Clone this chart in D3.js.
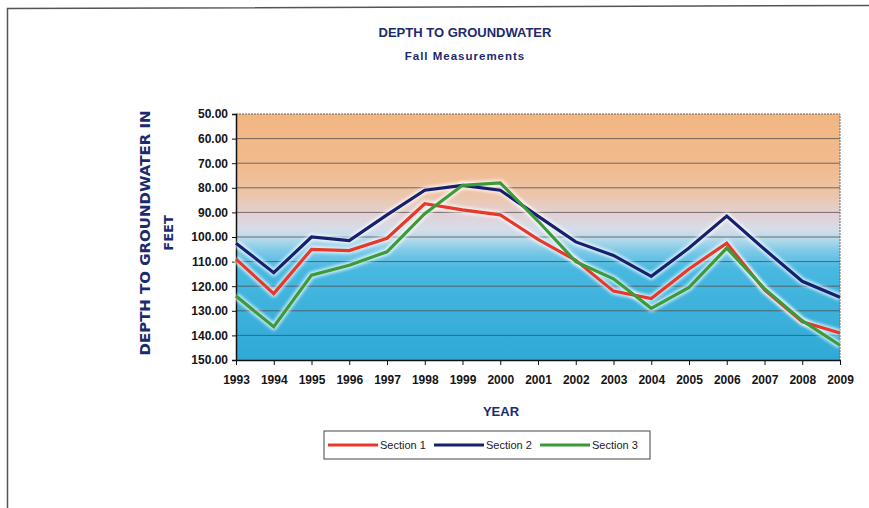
<!DOCTYPE html>
<html>
<head>
<meta charset="utf-8">
<script src="https://cdn.jsdelivr.net/npm/d3@7"></script>
<style>
  body { margin: 0; background: #fff; }
  text { font-family: "Liberation Sans", Arial, sans-serif; }
</style>
</head>
<body>
<svg id="chart" width="869" height="508"></svg>
<script>
// data
var years = [1993, 1994, 1995, 1996, 1997, 1998, 1999, 2000, 2001, 2002, 2003, 2004, 2005, 2006, 2007, 2008, 2009];
var section1 = [109, 123, 105, 105.5, 100.5, 86.5, 89, 91, 101, 109.5, 122, 125, 113, 102.5, 121.5, 134.5, 139];
var section2 = [102.5, 114.5, 100, 101.5, 91, 81, 79, 81, 91.5, 102, 107.5, 116, 104.5, 91.5, 105, 118, 124.5];
var section3 = [124, 136.5, 115.5, 111.5, 106, 90.5, 79, 78, 93.5, 110, 117, 129, 120.5, 104.5, 121, 134, 144];
var yTicks = [50, 60, 70, 80, 90, 100, 110, 120, 130, 140, 150];

var seriesNames = ["Section 1", "Section 2", "Section 3"];
var seriesValues = [section1, section2, section3];
var seriesColors = ["#e8382a", "#16206e", "#3c9a38"];

var navy = "#1c2a6e";

var svg = d3.select("#chart");

// page frame
svg.append("path")
  .attr("d", "M7.5,508 L7.5,8.5 L869,5.5")
  .attr("fill", "none")
  .attr("stroke", "#555")
  .attr("stroke-width", 1.5);

var x = d3.scalePoint().domain(years).range([236, 840]);
var y = d3.scaleLinear().domain([50, 150]).range([114, 360]);

// background gradient of the plot area
var defs = svg.append("defs");
var grad = defs.append("linearGradient")
  .attr("id", "bg").attr("x1", 0).attr("y1", 0).attr("x2", 0).attr("y2", 1);
[[0, "#f2b682"], [0.22, "#f1bb8f"], [0.33, "#ecc5aa"], [0.41, "#e2d1d6"], [0.47, "#d4dde9"],
 [0.51, "#b4d9eb"], [0.56, "#7ac8e7"], [0.63, "#48b8e0"], [1, "#2fa9d6"]]
  .forEach(function(s) {
    grad.append("stop").attr("offset", s[0]).attr("stop-color", s[1]);
  });

var blur = defs.append("filter").attr("id", "halo")
  .attr("x", "-5%").attr("y", "-20%").attr("width", "110%").attr("height", "140%");
blur.append("feGaussianBlur").attr("stdDeviation", 1.5);

svg.append("rect")
  .attr("x", x.range()[0]).attr("y", y(50))
  .attr("width", x.range()[1] - x.range()[0])
  .attr("height", y(150) - y(50))
  .attr("fill", "url(#bg)");

// gridlines
svg.append("g").selectAll("line")
  .data(yTicks.slice(1, -1))
  .enter().append("line")
  .attr("x1", x.range()[0]).attr("x2", x.range()[1])
  .attr("y1", function(d) { return y(d); })
  .attr("y2", function(d) { return y(d); })
  .attr("stroke", "#4a4a4a")
  .attr("stroke-opacity", 0.75)
  .attr("stroke-width", 1);

// top and right border, dotted
svg.append("path")
  .attr("d", "M" + x.range()[0] + "," + y(50) + " L" + x.range()[1] + "," + y(50) + " L" + x.range()[1] + "," + y(150))
  .attr("fill", "none")
  .attr("stroke", "#666")
  .attr("stroke-dasharray", "2,1")
  .attr("stroke-width", 1);

// axes
var yAxis = d3.axisLeft(y).tickValues(yTicks).tickSize(4).tickFormat(d3.format(".2f"));
var gy = svg.append("g")
  .attr("transform", "translate(" + x.range()[0] + ",0)")
  .call(yAxis);
gy.select(".domain").attr("stroke", "#111").attr("stroke-width", 1.5);
gy.selectAll(".tick line").attr("stroke", "#111");
gy.selectAll(".tick text")
  .attr("x", -8)
  .attr("fill", "#151515")
  .style("font-size", "12px")
  .style("font-weight", "bold")
  .style("font-family", "'Liberation Sans', Arial, sans-serif");

var xAxis = d3.axisBottom(x).tickSize(5).tickSizeOuter(0);
var gx = svg.append("g")
  .attr("transform", "translate(0," + y(150) + ")")
  .call(xAxis);
gx.select(".domain").attr("stroke", "#111").attr("stroke-width", 1.5);
gx.selectAll(".tick line").attr("stroke", "#111");
gx.selectAll(".tick text")
  .attr("y", 15)
  .attr("fill", "#151515")
  .style("font-size", "12px")
  .style("font-weight", "bold")
  .style("font-family", "'Liberation Sans', Arial, sans-serif");

// lines
var line = d3.line()
  .x(function(d, i) { return x(years[i]); })
  .y(function(d) { return y(d); });

seriesValues.forEach(function(vals, k) {
  svg.append("path")
    .attr("d", line(vals))
    .attr("fill", "none")
    .attr("stroke", "#fff")
    .attr("stroke-opacity", 0.7)
    .attr("stroke-width", 7)
    .attr("stroke-linejoin", "round")
    .attr("filter", "url(#halo)");
});
seriesValues.forEach(function(vals, k) {
  svg.append("path")
    .attr("d", line(vals))
    .attr("fill", "none")
    .attr("stroke", seriesColors[k])
    .attr("stroke-width", 3.2)
    .attr("stroke-linejoin", "miter");
});

// titles
svg.append("text")
  .attr("x", 465).attr("y", 37)
  .attr("text-anchor", "middle")
  .attr("fill", navy)
  .style("font-size", "13px").style("font-weight", "bold")
  .text("DEPTH TO GROUNDWATER");
svg.append("text")
  .attr("x", 465).attr("y", 60)
  .attr("text-anchor", "middle")
  .attr("fill", navy)
  .style("font-size", "11.5px").style("font-weight", "bold")
  .style("letter-spacing", "1px")
  .text("Fall Measurements");

svg.append("text")
  .attr("transform", "translate(150,233) rotate(-90)")
  .attr("text-anchor", "middle")
  .attr("fill", navy)
  .attr("textLength", 245)
  .attr("lengthAdjust", "spacingAndGlyphs")
  .style("font-family", "'DejaVu Sans', sans-serif")
  .style("font-size", "13.5px").style("font-weight", "bold")
  .text("DEPTH TO GROUNDWATER IN");
svg.append("text")
  .attr("transform", "translate(173,233) rotate(-90)")
  .attr("text-anchor", "middle")
  .attr("fill", navy)
  .style("font-family", "'DejaVu Sans', sans-serif")
  .style("font-size", "13px").style("font-weight", "bold")
  .text("FEET");

svg.append("text")
  .attr("x", 501).attr("y", 416)
  .attr("text-anchor", "middle")
  .attr("fill", navy)
  .style("font-size", "13px").style("font-weight", "bold")
  .text("YEAR");

// legend
var legend = svg.append("g").attr("transform", "translate(324,431)");
legend.append("rect")
  .attr("x", 0).attr("y", 0).attr("width", 326).attr("height", 28)
  .attr("fill", "#fff").attr("stroke", "#444").attr("stroke-width", 1);
var item = legend.selectAll("g.item")
  .data(seriesNames)
  .enter().append("g")
  .attr("class", "item")
  .attr("transform", function(d, i) { return "translate(" + (4 + i * 106) + ",14)"; });
item.append("line")
  .attr("x1", 0).attr("x2", 50).attr("y1", 0).attr("y2", 0)
  .attr("stroke", function(d, i) { return seriesColors[i]; })
  .attr("stroke-width", 3);
item.append("text")
  .attr("x", 52).attr("y", 4)
  .attr("fill", "#222")
  .style("font-family", "'Liberation Sans Narrow', 'Arial Narrow', sans-serif")
  .style("font-size", "11px")
  .text(function(d) { return d; });
</script>
</body>
</html>
